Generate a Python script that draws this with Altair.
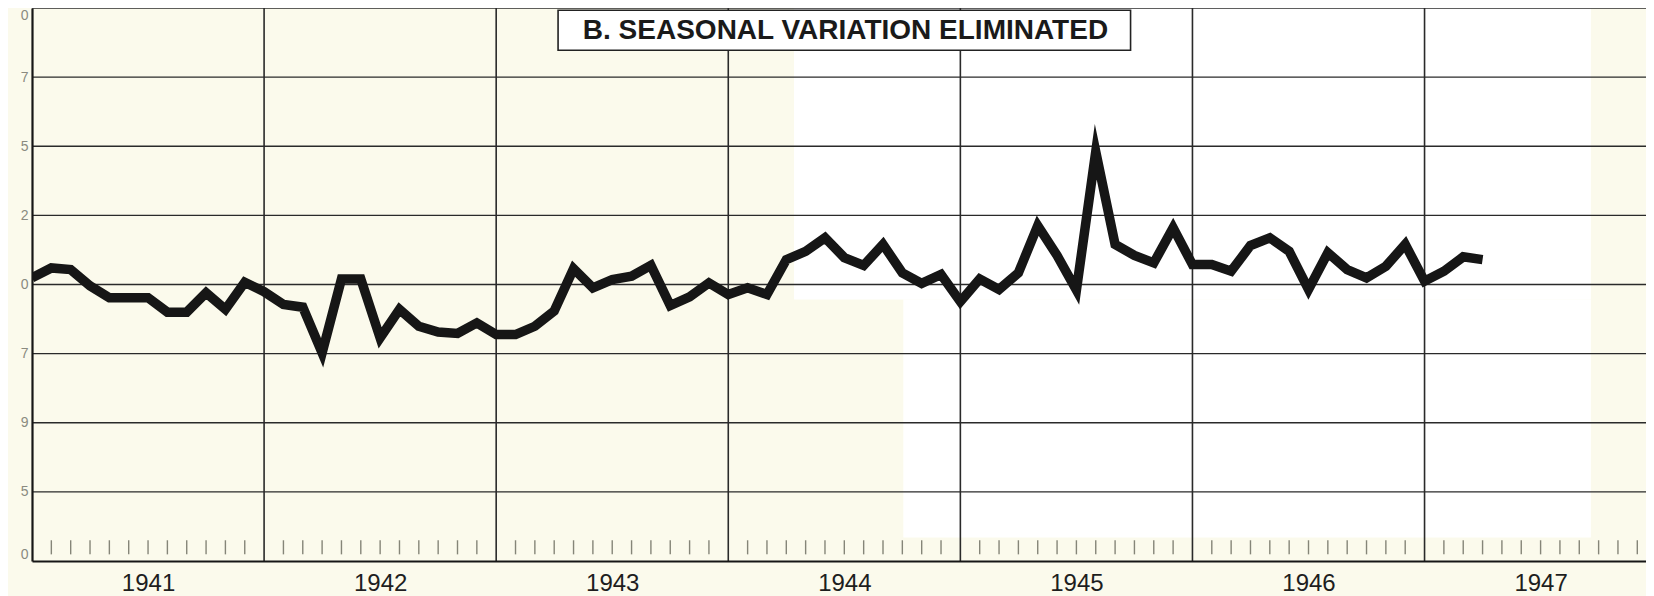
import json
import altair as alt
import pandas as pd

# ---- data (monthly, Jan 1941 .. Apr 1947) ----
years = ["1941", "1942", "1943", "1944", "1945", "1946", "1947"]
v1941 = [90.24, 90.60, 90.54, 89.95, 89.52, 89.52, 89.52, 89.00, 89.00, 89.70, 89.10, 90.08]
v1942 = [89.74, 89.28, 89.18, 87.53, 90.20, 90.20, 88.07, 89.10, 88.49, 88.28, 88.23, 88.61]
v1943 = [88.19, 88.19, 88.49, 89.04, 90.57, 89.88, 90.18, 90.30, 90.69, 89.24, 89.55, 90.06]
v1944 = [89.64, 89.88, 89.64, 90.90, 91.20, 91.69, 90.97, 90.69, 91.45, 90.42, 90.04, 90.36]
v1945 = [89.38, 90.20, 89.82, 90.42, 92.13, 91.05, 89.80, 94.80, 91.45, 91.05, 90.78, 92.05]
v1946 = [90.72, 90.72, 90.48, 91.41, 91.69, 91.20, 89.82, 91.15, 90.54, 90.24, 90.66, 91.45]
v1947 = [90.12, 90.48, 91.00, 90.90]
values = v1941 + v1942 + v1943 + v1944 + v1945 + v1946 + v1947

y_ticks = [80, 82.5, 85, 87.5, 90, 92.5, 95, 97.5, 100]
y_tick_labels = ["0", "5", "9", "7", "0", "2", "5", "7", "0"]   # visible (cut-off) glyphs, bottom to top
year_starts = [12, 24, 36, 48, 60, 72]
year_mids = [6, 18, 30, 42, 54, 66, 78]
month_ticks = [m for m in range(1, 84) if m % 12 != 0]

title_text = "B. SEASONAL VARIATION ELIMINATED"
title_box_x = [27.2, 56.8]
title_box_y = [98.47, 99.92]
title_pos = [42.06, 99.16]

# white (faded) patches of the scanned sheet
patch_x0 = [39.4, 45.05]
patch_x1 = [80.6, 80.6]
patch_y0 = [89.46, 80.85]
patch_y1 = [100.0, 89.46]

X_END = 83.45
CREAM = "#FBFAEC"
INK = "#161616"

xscale = alt.Scale(domain=[0, X_END], nice=False, zero=False)
yscale = alt.Scale(domain=[80, 100], nice=False, zero=False)

line_df = pd.DataFrame({"m": list(range(len(values))), "v": values})
patch_df = pd.DataFrame({"x0": patch_x0, "x1": patch_x1, "y0": patch_y0, "y1": patch_y1})
hgrid_df = pd.DataFrame({"v": y_ticks[1:]})
vgrid_df = pd.DataFrame({"m": year_starts})
tick_df = pd.DataFrame({"m": month_ticks})
box_df = pd.DataFrame({"x0": [title_box_x[0]], "x1": [title_box_x[1]],
                       "y0": [title_box_y[0]], "y1": [title_box_y[1]]})
text_df = pd.DataFrame({"x": [title_pos[0]], "y": [title_pos[1]], "t": [title_text]})

ylab_map = {str(t if t % 1 else int(t)): l for t, l in zip(y_ticks, y_tick_labels)}
ylab_expr = json.dumps(ylab_map) + "[toString(datum.value)]"
xlab_expr = json.dumps(years) + "[floor(datum.value / 12)]"

x_axis = alt.Axis(values=year_mids, labelExpr=xlab_expr, ticks=False, grid=False,
                  domain=True, domainColor=INK, domainWidth=2.2, title=None,
                  labelFont="Liberation Sans", labelFontSize=24, labelColor="#1e1e1e",
                  labelPadding=10, labelFlush=False, zindex=1)
y_axis = alt.Axis(values=y_ticks, labelExpr=ylab_expr, ticks=False, grid=False,
                  domain=True, domainColor=INK, domainWidth=2.2, title=None,
                  labelFont="Liberation Sans", labelFontSize=14, labelColor="#8a8a80",
                  labelPadding=4, labelFlush=True, labelOverlap=False, zindex=1)


def X(field):
    return alt.X(field, scale=xscale, axis=x_axis)


def Y(field):
    return alt.Y(field, scale=yscale, axis=y_axis)


patches = alt.Chart(patch_df).mark_rect(color="white").encode(
    x=X("x0:Q"), x2="x1:Q", y=Y("y0:Q"), y2="y1:Q",
)
hgrid = alt.Chart(hgrid_df).mark_rule(color="#2a2a2a", strokeWidth=1.4).encode(
    y=Y("v:Q")
)
vgrid = alt.Chart(vgrid_df).mark_rule(color="#2a2a2a", strokeWidth=1.6).encode(
    x=X("m:Q")
)
ticks = alt.Chart(tick_df).mark_rule(color="#858578", strokeWidth=1.4).encode(
    x=X("m:Q"),
    y=alt.datum(80.24),
    y2=alt.datum(80.75),
)
line = alt.Chart(line_df).mark_line(
    color=INK, strokeWidth=9.5, strokeJoin="miter", strokeMiterLimit=8, clip=True
).encode(
    x=X("m:Q"), y=Y("v:Q"),
)
box = alt.Chart(box_df).mark_rect(fill="white", stroke="#222222", strokeWidth=1.6).encode(
    x=X("x0:Q"), x2="x1:Q", y=Y("y0:Q"), y2="y1:Q",
)
label = alt.Chart(text_df).mark_text(
    font="Liberation Sans", fontSize=28, fontWeight="bold", color="#1a1a1a",
    align="center", baseline="middle"
).encode(
    x=X("x:Q"), y=Y("y:Q"), text="t:N",
)

chart = alt.layer(patches, hgrid, vgrid, ticks, line, box, label).properties(
    width=1614,
    height=553,
    autosize=alt.AutoSizeParams(type="none"),
    padding={"left": 24, "top": 0, "right": 0, "bottom": 36},
    background=CREAM,
).configure_view(stroke=None, fill=CREAM)

chart.save("out.html", embed_options={"renderer": "svg", "actions": False})
